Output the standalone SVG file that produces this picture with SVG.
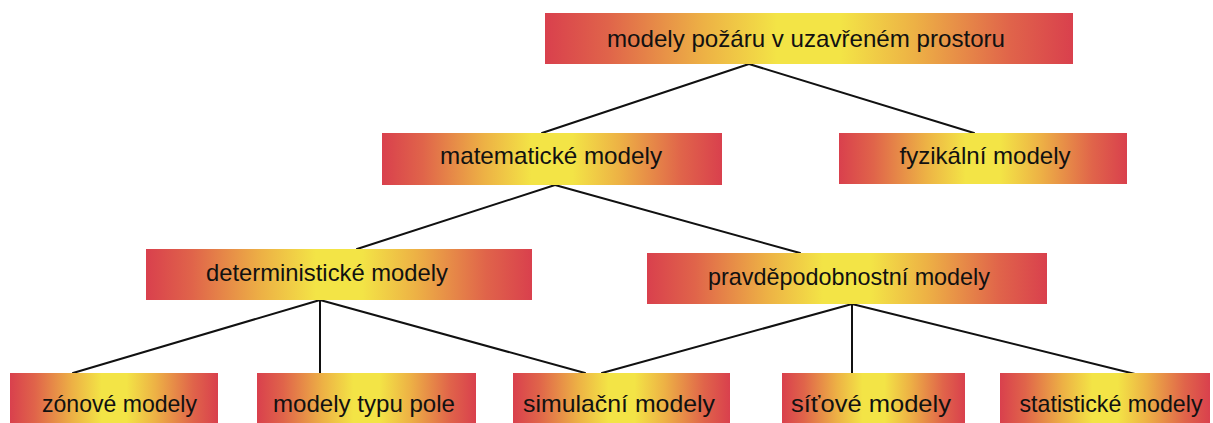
<svg xmlns="http://www.w3.org/2000/svg" width="1213" height="423" viewBox="0 0 1213 423">
<defs>
<linearGradient id="fire" x1="0" y1="0" x2="1" y2="0">
<stop offset="0" stop-color="#d9404d"/>
<stop offset="0.12" stop-color="#e0644a"/>
<stop offset="0.3" stop-color="#edb145"/>
<stop offset="0.44" stop-color="#f3e446"/>
<stop offset="0.56" stop-color="#f3e446"/>
<stop offset="0.7" stop-color="#edb145"/>
<stop offset="0.88" stop-color="#e0644a"/>
<stop offset="1" stop-color="#d9404d"/>
</linearGradient>
<style>
.box{fill:url(#fire);}
.lbl{font-family:"Liberation Sans","DejaVu Sans",sans-serif;font-size:24px;fill:#111;text-anchor:middle;}
.conn line{stroke:#111;stroke-width:2;stroke-linecap:round;}
</style>
</defs>
<rect width="1213" height="423" fill="#ffffff"/>
<g id="connectors" class="conn">
<line x1="749" y1="64" x2="542" y2="133"/>
<line x1="749" y1="64" x2="974" y2="133"/>
<line x1="555" y1="185" x2="357" y2="249"/>
<line x1="555" y1="185" x2="800" y2="253"/>
<line x1="320" y1="300" x2="73" y2="373"/>
<line x1="320" y1="300" x2="320" y2="373"/>
<line x1="320" y1="300" x2="585" y2="373"/>
<line x1="852" y1="304" x2="602" y2="373"/>
<line x1="852" y1="304" x2="852" y2="373"/>
<line x1="852" y1="304" x2="1135" y2="374"/>
</g>
<g id="n-root"><rect class="box" x="545" y="13" width="528" height="51"/><text class="lbl" x="806" y="47" textLength="398" lengthAdjust="spacingAndGlyphs">modely požáru v uzavřeném prostoru</text></g>
<g id="n-mat"><rect class="box" x="382" y="133" width="340" height="52"/><text class="lbl" x="551" y="164" textLength="222" lengthAdjust="spacingAndGlyphs">matematické modely</text></g>
<g id="n-fyz"><rect class="box" x="839" y="133" width="288" height="51"/><text class="lbl" x="985" y="164" textLength="171" lengthAdjust="spacingAndGlyphs">fyzikální modely</text></g>
<g id="n-det"><rect class="box" x="146" y="249" width="386" height="51"/><text class="lbl" x="327" y="281" textLength="242" lengthAdjust="spacingAndGlyphs">deterministické modely</text></g>
<g id="n-prav"><rect class="box" x="647" y="253" width="400" height="51"/><text class="lbl" x="849" y="285" textLength="282" lengthAdjust="spacingAndGlyphs">pravděpodobnostní modely</text></g>
<g id="n-zon"><rect class="box" x="10" y="373" width="208" height="51"/><text class="lbl" x="119.5" y="412" textLength="155" lengthAdjust="spacingAndGlyphs">zónové modely</text></g>
<g id="n-pole"><rect class="box" x="257" y="373" width="219" height="51"/><text class="lbl" x="364" y="412" textLength="182" lengthAdjust="spacingAndGlyphs">modely typu pole</text></g>
<g id="n-sim"><rect class="box" x="513" y="373" width="217" height="51"/><text class="lbl" x="619" y="412" textLength="192" lengthAdjust="spacingAndGlyphs">simulační modely</text></g>
<g id="n-sit"><rect class="box" x="782" y="373" width="183" height="51"/><text class="lbl" x="871" y="412" textLength="160" lengthAdjust="spacingAndGlyphs">síťové modely</text></g>
<g id="n-stat"><rect class="box" x="1000" y="373" width="210" height="51"/><text class="lbl" x="1111" y="412" textLength="183" lengthAdjust="spacingAndGlyphs">statistické modely</text></g>
</svg>
